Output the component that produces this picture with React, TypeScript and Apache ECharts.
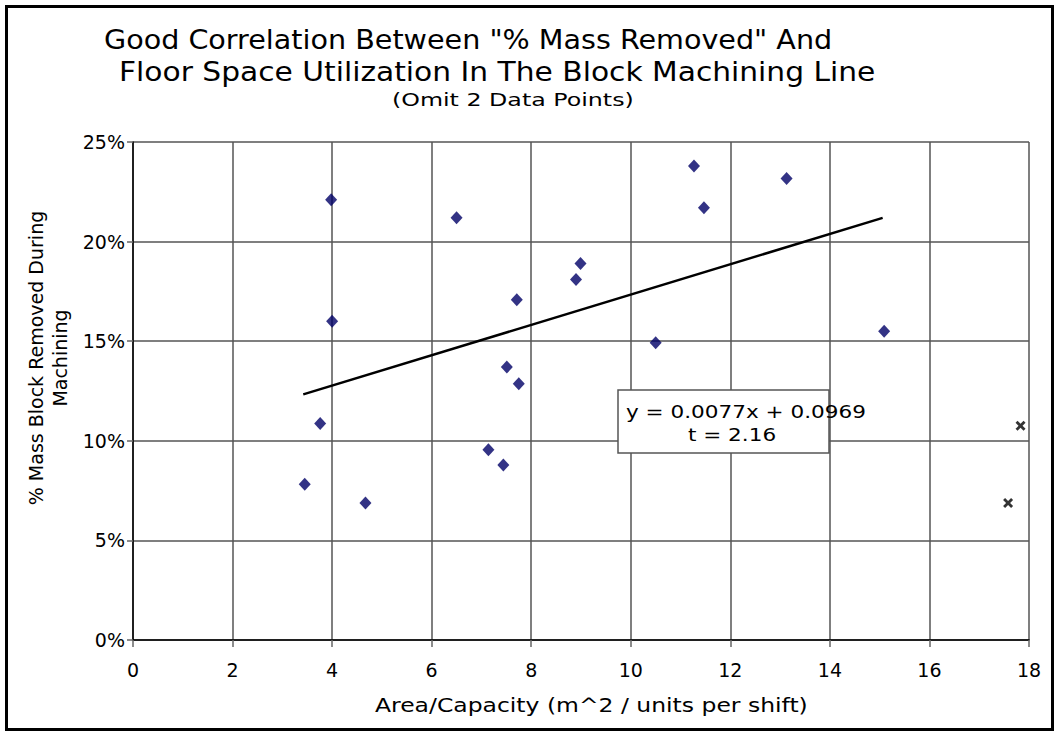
import React, { useEffect, useRef } from "react";
import * as echarts from "echarts";

// Data
const areaCapacity = [3.45, 3.76, 3.98, 4.0, 4.67, 6.5, 7.14, 7.44, 7.51, 7.71, 7.75, 8.9, 8.99, 10.5, 11.27, 11.47, 13.13, 15.09];
const massRemovedPct = [7.82, 10.87, 22.1, 16.0, 6.88, 21.2, 9.55, 8.78, 13.7, 17.08, 12.86, 18.1, 18.9, 14.92, 23.8, 21.7, 23.17, 15.5];
const omittedX = [17.83, 17.58];
const omittedY = [10.75, 6.88];
const trendX = [3.42, 15.06];
const trendY = [12.33, 21.19];
const xTicks = { min: 0, max: 18, interval: 2 };
const yTicks = { min: 0, max: 25, interval: 5 };

const titleLines = [
  'Good Correlation Between "% Mass Removed" And',
  "Floor Space Utilization In The Block Machining Line",
];
const subtitle = "(Omit 2 Data Points)";
const xName = "Area/Capacity (m^2 / units per shift)";
const yName = "% Mass Block Removed During\nMachining";
const eqLines = ["y = 0.0077x + 0.0969", "t = 2.16"];

const FONT = "DejaVu Sans";

function measure(text: string, size: number): number {
  const c = document.createElement("canvas").getContext("2d");
  if (!c) return text.length * size * 0.6;
  c.font = `${size}px "${FONT}"`;
  return c.measureText(text).width;
}

function fitText(text: string, left: number, right: number, y: number, size: number, align: string = "left", cx?: number, sx?: number) {
  const w = measure(text, size);
  const scaleX = sx ?? (right - left) / w;
  return {
    type: "text",
    x: align === "center" ? (cx as number) : left,
    y,
    scaleX,
    z: 10,
    style: {
      text,
      fontFamily: FONT,
      fontSize: size,
      fill: "#000",
      align,
      verticalAlign: "middle",
    },
  };
}

export default function App() {
  const ref = useRef<HTMLDivElement>(null);
  useEffect(() => {
    document.body.style.margin = "0";
    if (!ref.current) return;
    const chart = echarts.init(ref.current, undefined, { renderer: "svg" });

    const eqScale = (866 - 626) / measure(eqLines[0], 18);

    const option: any = {
      animation: false,
      backgroundColor: "#fff",
      grid: { left: 133, top: 142, width: 896, height: 498, containLabel: false },
      xAxis: {
        type: "value",
        min: xTicks.min,
        max: xTicks.max,
        interval: xTicks.interval,
        axisLine: { show: true, onZero: false, lineStyle: { color: "#000", width: 1.5 } },
        axisTick: { show: true, length: 7, lineStyle: { color: "#666", width: 1.5 } },
        axisLabel: { color: "#000", fontFamily: FONT, fontSize: 19, margin: 20 },
        splitLine: { show: true, lineStyle: { color: "#555", width: 1.5 } },
      },
      yAxis: {
        type: "value",
        min: yTicks.min,
        max: yTicks.max,
        interval: yTicks.interval,
        axisLine: { show: true, lineStyle: { color: "#000", width: 1.5 } },
        axisTick: { show: true, length: 6, lineStyle: { color: "#666", width: 1.5 } },
        axisLabel: { color: "#000", fontFamily: FONT, fontSize: 19, margin: 8, formatter: "{value}%" },
        splitLine: { show: true, lineStyle: { color: "#555", width: 1.5 } },
      },
      series: [
        {
          type: "scatter",
          data: areaCapacity.map((x, i) => [x, massRemovedPct[i]]),
          symbol: "diamond",
          symbolSize: [12, 13],
          itemStyle: { color: "#000066" },
          z: 3,
        },
        {
          type: "scatter",
          data: omittedX.map((x, i) => [x, omittedY[i]]),
          symbol: "path://M0,2L2,0L5,3L8,0L10,2L7,5L10,8L8,10L5,7L2,10L0,8L3,5Z",
          symbolSize: [10, 10],
          itemStyle: { color: "#000" },
          z: 3,
        },
        {
          type: "line",
          data: trendX.map((x, i) => [x, trendY[i]]),
          symbol: "none",
          lineStyle: { color: "#000", width: 2.5 },
          z: 2,
        },
      ],
      graphic: [
        {
          type: "rect",
          shape: { x: 6.5, y: 6.5, width: 1046, height: 723 },
          style: { fill: "none", stroke: "#000", lineWidth: 3 },
          z: 1,
        },
        fitText(titleLines[0], 104, 832, 40, 26),
        fitText(titleLines[1], 119, 876, 72, 26),
        fitText(subtitle, 392, 634, 100, 18),
        fitText(xName, 375, 808, 705, 19),
        {
          type: "text",
          x: 47.5,
          y: 358,
          rotation: Math.PI / 2,
          z: 10,
          style: {
            text: yName,
            fontFamily: FONT,
            fontSize: 19,
            lineHeight: 24,
            fill: "#000",
            align: "center",
            verticalAlign: "middle",
          },
        },
        {
          type: "rect",
          shape: { x: 618, y: 390, width: 211, height: 63 },
          style: { fill: "#fff", stroke: "#555", lineWidth: 1.5 },
          z: 5,
        },
        fitText(eqLines[0], 626, 866, 412, 18),
        fitText(eqLines[1], 0, 0, 435, 18, "center", 732, eqScale),
      ],
    };
    chart.setOption(option);
    return () => chart.dispose();
  }, []);
  return <div ref={ref} style={{ width: 1058, height: 732 }} />;
}
